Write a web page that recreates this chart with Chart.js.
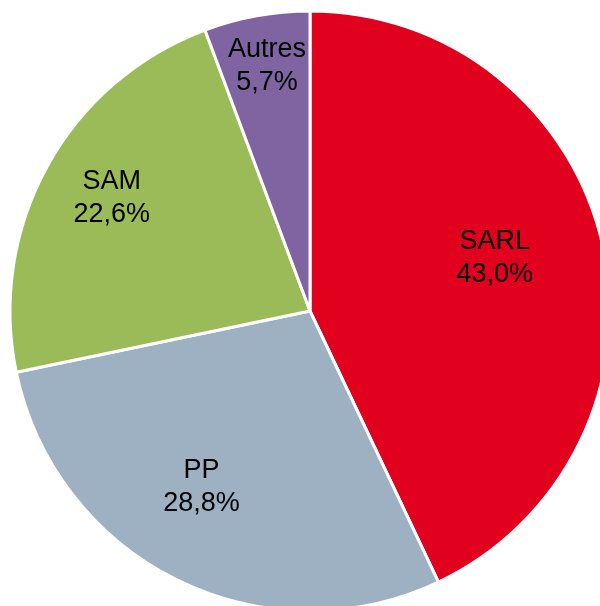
<!DOCTYPE html>
<html>
<head>
<meta charset="utf-8">
<script src="https://cdn.jsdelivr.net/npm/chart.js@4/dist/chart.umd.min.js"></script>
<style>
  html, body { margin: 0; padding: 0; background: #ffffff; overflow: hidden; width: 600px; height: 606px; }
  #wrap { position: absolute; left: 0; top: 0; width: 620px; height: 622px; }
</style>
</head>
<body>
<div id="wrap"><canvas id="c" width="620" height="622"></canvas></div>
<script>
const categories = ["SARL", "PP", "SAM", "Autres"];
const shares = [43.0, 28.8, 22.6, 5.7];
const valueLabels = ["43,0%", "28,8%", "22,6%", "5,7%"];
const colors = ["#E2001F", "#9DB1C2", "#9BBB59", "#8064A2"];

// label placement relative to each slice: radial fraction and angle tweak (degrees)
const labelPlacement = [
  { frac: 0.64, dAng: -3.2 },
  { frac: 0.69, dAng: 5.2 },
  { frac: 0.76, dAng: 0.7 },
  { frac: 0.83, dAng: 0.3 }
];

const sliceLabels = {
  id: "sliceLabels",
  afterDatasetsDraw(chart) {
    const ctx = chart.ctx;
    const meta = chart.getDatasetMeta(0);
    ctx.save();
    ctx.fillStyle = "#000000";
    ctx.font = "27px 'Liberation Sans', Arial, Helvetica, sans-serif";
    ctx.textAlign = "center";
    ctx.textBaseline = "middle";
    meta.data.forEach((arc, i) => {
      const p = arc.getProps(["x", "y", "startAngle", "endAngle", "outerRadius"], true);
      const mid = (p.startAngle + p.endAngle) / 2 + labelPlacement[i].dAng * Math.PI / 180;
      const r = p.outerRadius * labelPlacement[i].frac;
      const cx = p.x + Math.cos(mid) * r;
      const cy = p.y + Math.sin(mid) * r;
      ctx.fillText(categories[i], cx, cy - 16.5);
      ctx.fillText(valueLabels[i], cx, cy + 16.5);
    });
    ctx.restore();
  }
};

new Chart(document.getElementById("c"), {
  type: "pie",
  data: {
    labels: categories,
    datasets: [{
      data: shares,
      backgroundColor: colors,
      borderColor: "#ffffff",
      borderWidth: 3
    }]
  },
  options: {
    responsive: false,
    animation: false,
    radius: 300,
    layout: { padding: 0 },
    plugins: {
      legend: { display: false },
      tooltip: { enabled: false }
    }
  },
  plugins: [sliceLabels]
});
</script>
</body>
</html>
